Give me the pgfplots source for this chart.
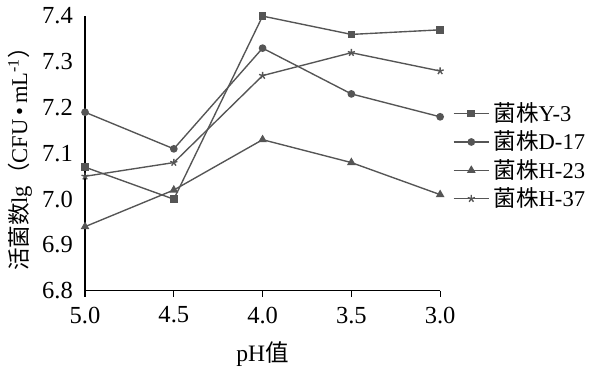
\documentclass[border=0pt]{standalone}
\usepackage{fontspec}
\setmainfont{Liberation Serif}
\newfontfamily\cjk{Noto Sans CJK SC}
\usepackage{pgfplots}
\pgfplotsset{compat=1.18}
\definecolor{lc}{HTML}{555555}
\begin{document}
\fontsize{12}{14}\selectfont
\begin{tikzpicture}
\begin{axis}[
  scale only axis,
  width=181pt, height=140pt,
  x dir=reverse,
  xmin=3, xmax=5, ymin=6.8, ymax=7.4,
  xtick={5,4.5,4,3.5,3}, xticklabels={5.0,4.5,4.0,3.5,3.0},
  ytick={6.8,6.9,...,7.41},
  yticklabel style={/pgf/number format/fixed,/pgf/number format/fixed zerofill,/pgf/number format/precision=1},
  /pgf/number format/assume math mode=true,
  axis lines=left,
  axis line style={black, line width=0.6pt, -},
  x axis line style={-},
  y axis line style={-},
  xtick style={black, line width=0.6pt},
  ytick style={draw=none},
  tick align=outside,
  major tick length=3pt,
  ticklabel style={font=\fontsize{12.5}{14}\selectfont},
  xticklabel style={yshift=-1pt},
  yticklabel style={xshift=1pt},
  xlabel={pH{\cjk 值}},
  ylabel={{\cjk 活菌数}lg{\cjk （}CFU\,•\,mL\textsuperscript{-1}{\cjk ）}},
  xlabel style={yshift=-1pt, font=\fontsize{12}{14}\selectfont},
  ylabel style={yshift=-3pt, font=\fontsize{11.5}{14}\selectfont},
  every axis plot/.append style={color=lc, line width=0.7pt, mark size=1.6pt, mark options={solid, fill=lc}},
  legend style={draw=none, fill=none, at={(1.035,0.49)}, anchor=west, font=\fontsize{11.5}{11.5}\selectfont, row sep=-1pt, inner xsep=0pt},
  legend cell align=left,
  legend image code/.code={\draw[#1] (0pt,0pt) -- (18pt,0pt); \draw[#1] plot coordinates {(9pt,0pt)};},
]
\addplot[mark=square*] coordinates {(5,7.07) (4.5,7.00) (4,7.40) (3.5,7.36) (3,7.37)};
\addplot[mark=*] coordinates {(5,7.19) (4.5,7.11) (4,7.33) (3.5,7.23) (3,7.18)};
\addplot[mark=triangle*, mark size=1.9pt] coordinates {(5,6.94) (4.5,7.02) (4,7.13) (3.5,7.08) (3,7.01)};
\addplot[mark=star, mark size=1.9pt] coordinates {(5,7.05) (4.5,7.08) (4,7.27) (3.5,7.32) (3,7.28)};
\legend{{\cjk 菌株}Y-3,{\cjk 菌株}D-17,{\cjk 菌株}H-23,{\cjk 菌株}H-37}
\end{axis}
\end{tikzpicture}
\end{document}
